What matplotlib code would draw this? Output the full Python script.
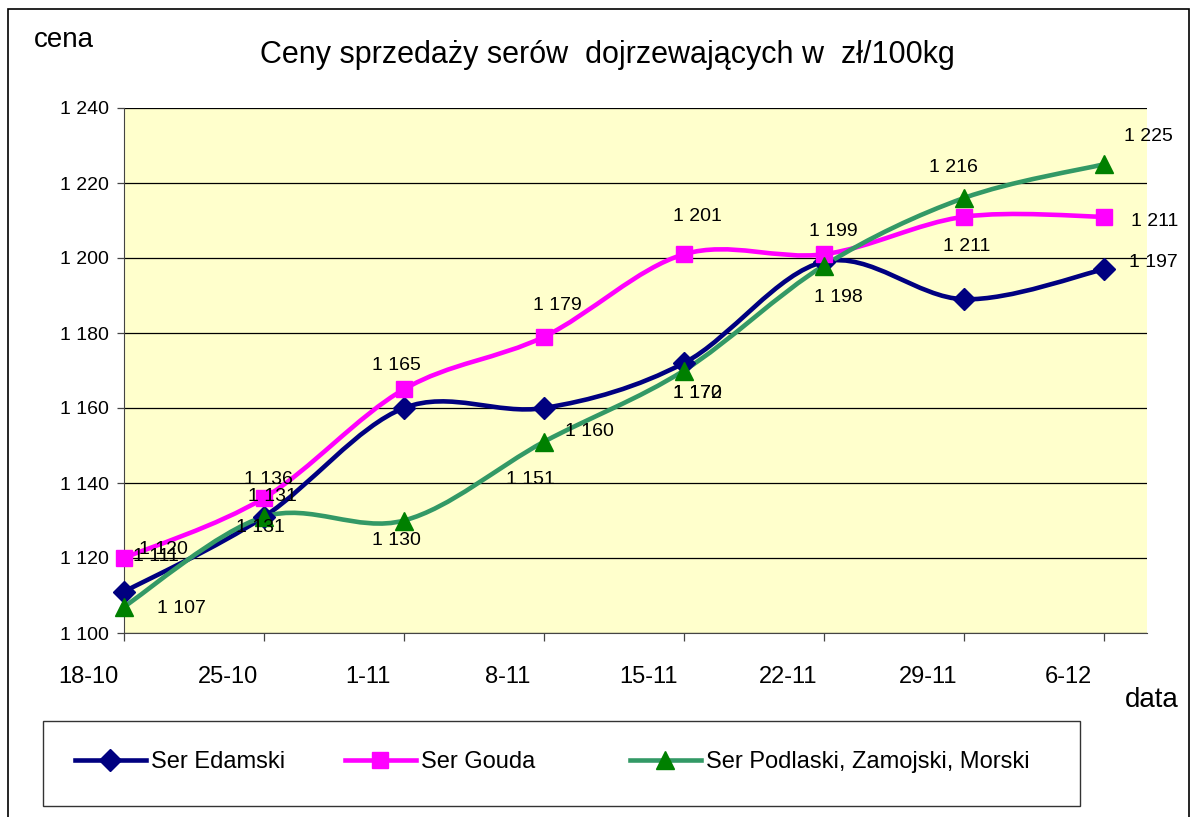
import matplotlib
matplotlib.use("Agg")
import matplotlib.pyplot as plt
from matplotlib.path import Path
from matplotlib.patches import PathPatch, Rectangle
from matplotlib.lines import Line2D
from matplotlib.transforms import ScaledTranslation

plt.rcParams['font.family'] = ['Liberation Sans', 'DejaVu Sans']

# ---- data ----
dates = ["18-10", "25-10", "1-11", "8-11", "15-11", "22-11", "29-11", "6-12"]
edamski = [1111, 1131, 1160, 1160, 1172, 1199, 1189, 1197]
gouda = [1120, 1136, 1165, 1179, 1201, 1201, 1211, 1211]
podlaski = [1107, 1131, 1130, 1151, 1170, 1198, 1216, 1225]
series_names = ["Ser Edamski", "Ser Gouda", "Ser Podlaski, Zamojski, Morski"]
yticks = [1100, 1120, 1140, 1160, 1180, 1200, 1220, 1240]

# label offsets in pixels (None = no label shown)
edam_off = [(32, 35), (8, 20), None, (45, -23), (13, -30), (9, 30), None, (49, 7)]
gouda_off = [(39, 8), (4, 18), (-8, 24), (13, 31), (13, 38), None, (3, -30), (51, -5)]
pod_off = [(57, -2), (-4, -11), (-8, -20), (-14, -38), (13, -23), (14, -32), (-11, 31), (44, 28)]


def fmt(v):
    return f"{v // 1000} {v % 1000:03d}"


def smooth_path(xs, ys):
    n = len(xs)
    verts = [(xs[0], ys[0])]
    codes = [Path.MOVETO]
    for i in range(n - 1):
        i0 = i - 1 if i > 0 else i
        i3 = i + 2 if i + 2 < n else i + 1
        c1 = (xs[i] + (xs[i + 1] - xs[i0]) / 6.0, ys[i] + (ys[i + 1] - ys[i0]) / 6.0)
        c2 = (xs[i + 1] - (xs[i3] - xs[i]) / 6.0, ys[i + 1] - (ys[i3] - ys[i]) / 6.0)
        verts += [c1, c2, (xs[i + 1], ys[i + 1])]
        codes += [Path.CURVE4] * 3
    return Path(verts, codes)


W, H = 1192, 817
fig = plt.figure(figsize=(W / 100, H / 100), dpi=100)
fig.patch.set_facecolor("white")
ax = fig.add_axes([124 / W, 1 - 633 / H, (1147 - 124) / W, (633 - 108) / H])
ax.set_facecolor("#FFFFCC")

x = list(range(len(dates)))
styles = [
    (edamski, "#000080", "#000080", "D", 11, edam_off),
    (gouda, "#FF00FF", "#FF00FF", "s", 11, gouda_off),
    (podlaski, "#339966", "#008000", "^", 13, pod_off),
]
handles = []
for (vals, lc, mc, mk, ms, offs), name in zip(styles, series_names):
    patch = PathPatch(smooth_path(x, vals), fill=False, edgecolor=lc, lw=3.3,
                      capstyle="round", joinstyle="round", zorder=3)
    ax.add_patch(patch)
    ax.plot(x, vals, linestyle="none", marker=mk, markersize=ms, color=mc,
            markeredgecolor=mc, zorder=4, clip_on=False)
    for xi, v, off in zip(x, vals, offs):
        if off is None:
            continue
        ax.annotate(fmt(v), (xi, v), xytext=off, textcoords="offset pixels",
                    ha="center", va="center", fontsize=14, color="black", zorder=5)
    handles.append(Line2D([], [], color=lc, lw=3.3, marker=mk, markersize=ms,
                          markerfacecolor=mc, markeredgecolor=mc, label=name))

ax.set_xlim(0, 1023 / 140)
ax.set_ylim(1100, 1240)
ax.set_yticks(yticks)
ax.set_yticklabels([fmt(v) for v in yticks])
ax.set_xticks(x)
ax.set_xticklabels(dates)
ax.yaxis.grid(True, color="black", lw=0.9)
ax.set_axisbelow(True)
for s in ["top", "right"]:
    ax.spines[s].set_visible(False)
ax.spines["left"].set_color("#444444")
ax.spines["bottom"].set_color("#444444")
ax.tick_params(axis="y", direction="out", length=5, width=0.9, pad=6,
               labelsize=14, color="#444444")
ax.tick_params(axis="x", direction="out", length=6, width=0.9, pad=18,
               labelsize=17, color="#444444")
shift = ScaledTranslation(-36 / 100, 0, fig.dpi_scale_trans)
for lab in ax.get_xticklabels():
    lab.set_transform(lab.get_transform() + shift)

fig.text(607 / W, 1 - 55 / H, "Ceny sprzedaży serów  dojrzewających w  zł/100kg",
         ha="center", va="center", fontsize=22)
fig.text(64 / W, 1 - 40 / H, "cena", ha="center", va="center", fontsize=20)
fig.text(1152 / W, 1 - 700 / H, "data", ha="center", va="center", fontsize=20)

# legend: framed box with three entries
fig.add_artist(Rectangle((43 / W, 1 - 806 / H), (1080 - 43) / W, 85 / H,
                         transform=fig.transFigure, fill=False,
                         edgecolor="#333333", lw=1.0))
for h, xs in zip(handles, [75, 345, 630]):
    lg = fig.legend(handles=[h], loc="center left",
                    bbox_to_anchor=(xs / W, 1 - 762 / H), fontsize=17,
                    handlelength=3.0, handletextpad=0.2, borderpad=0,
                    borderaxespad=0, frameon=False)

fig.add_artist(Rectangle((8 / W, -0.02), (1189 - 8) / W, 1.02 - 9 / H,
                         transform=fig.transFigure, fill=False,
                         edgecolor="black", lw=1.2))

fig.savefig("out.png", dpi=100)
